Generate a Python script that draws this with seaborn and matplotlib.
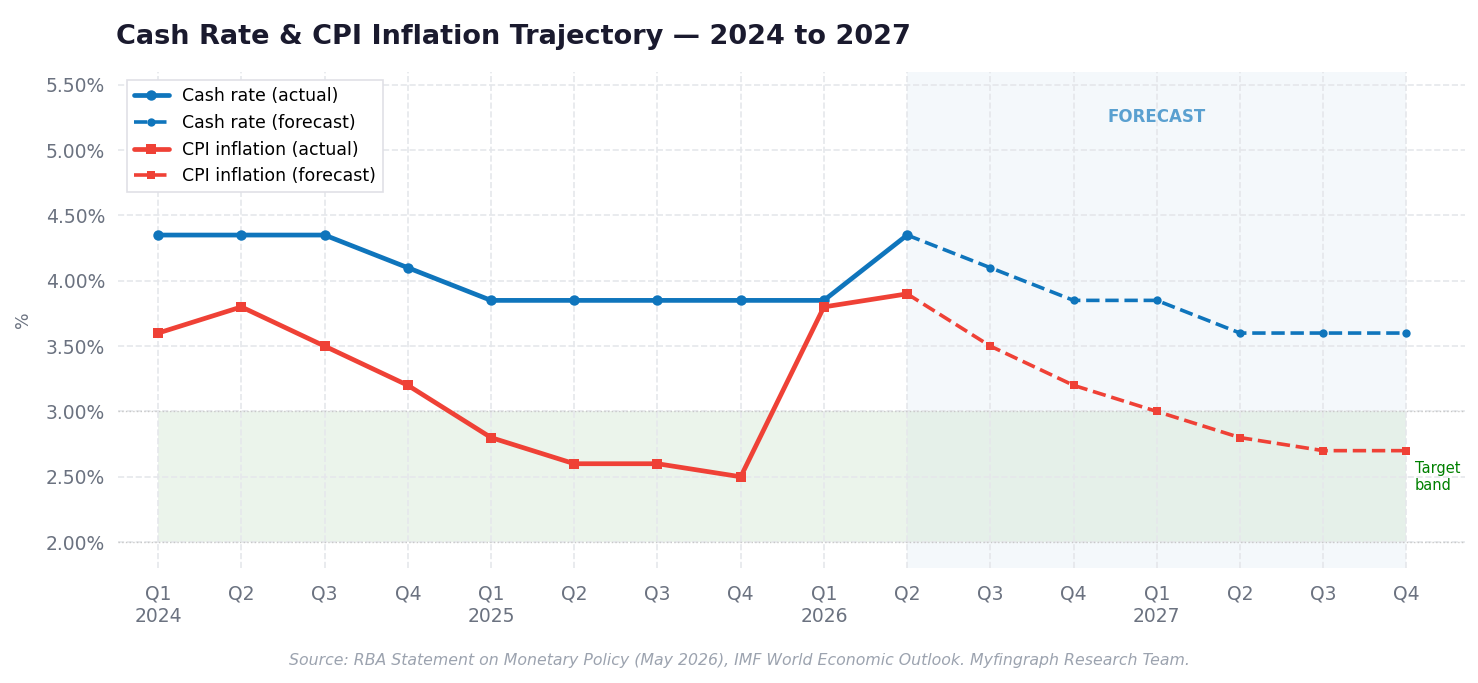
import matplotlib
matplotlib.use("Agg")
import matplotlib.pyplot as plt
import matplotlib.ticker as mticker
import seaborn as sns
import pandas as pd
import numpy as np

quarters = ["Q1\n2024", "Q2", "Q3", "Q4", "Q1\n2025", "Q2", "Q3", "Q4",
            "Q1\n2026", "Q2", "Q3", "Q4", "Q1\n2027", "Q2", "Q3", "Q4"]
cash_actual = [4.35, 4.35, 4.35, 4.10, 3.85, 3.85, 3.85, 3.85, 3.85, 4.35]
cash_forecast = [4.35, 4.10, 3.85, 3.85, 3.60, 3.60, 3.60]
cpi_actual = [3.6, 3.8, 3.5, 3.2, 2.8, 2.6, 2.6, 2.5, 3.8, 3.9]
cpi_forecast = [3.9, 3.5, 3.2, 3.0, 2.8, 2.7, 2.7]
target_low, target_high = 2.0, 3.0
forecast_start = 9

sns.set_style("whitegrid")
plt.rcParams['font.family'] = ['DejaVu Sans']

BLUE = "#0f75bc"
RED = "#ef4136"
GRAY = "#6b7280"

n_act = len(cash_actual)
x_act = np.arange(n_act)
x_fc = np.arange(forecast_start, forecast_start + len(cash_forecast))

df = pd.concat([
    pd.DataFrame({"x": x_act, "y": cash_actual, "s": "Cash rate (actual)"}),
    pd.DataFrame({"x": x_fc, "y": cash_forecast, "s": "Cash rate (forecast)"}),
    pd.DataFrame({"x": x_act, "y": cpi_actual, "s": "CPI inflation (actual)"}),
    pd.DataFrame({"x": x_fc, "y": cpi_forecast, "s": "CPI inflation (forecast)"}),
])

fig, ax = plt.subplots(figsize=(14.78, 6.83), dpi=100)
fig.subplots_adjust(left=0.08, right=0.991, top=0.895, bottom=0.168)

# shaded regions
ax.axvspan(forecast_start, len(quarters) - 1, color="#dbe8f5", alpha=0.3, lw=0, zorder=0)
ax.fill_between([0, len(quarters) - 1], target_low, target_high, color="#cfe5cf", alpha=0.4, lw=0, zorder=0)
ax.axhline(target_low, color="#c8c8c8", ls=":", lw=1, zorder=1)
ax.axhline(target_high, color="#c8c8c8", ls=":", lw=1, zorder=1)

styles = {
    "Cash rate (actual)": dict(color=BLUE, lw=3.4, ls="-", marker="o", ms=7.5),
    "Cash rate (forecast)": dict(color=BLUE, lw=2.6, ls="--", marker="o", ms=6),
    "CPI inflation (actual)": dict(color=RED, lw=3.4, ls="-", marker="s", ms=7.5),
    "CPI inflation (forecast)": dict(color=RED, lw=2.6, ls="--", marker="s", ms=6),
}
for name, st in styles.items():
    sub = df[df["s"] == name]
    sns.lineplot(data=sub, x="x", y="y", ax=ax, label=name, color=st["color"],
                 linewidth=st["lw"], linestyle=st["ls"], marker=st["marker"],
                 markersize=st["ms"], markeredgewidth=0, zorder=3)

ax.set_xlim(-0.48, 15.7)
ax.set_ylim(1.8, 5.6)
ax.set_xticks(range(len(quarters)))
ax.set_xticklabels(quarters)
ax.set_yticks(np.arange(2.0, 5.51, 0.5))
ax.yaxis.set_major_formatter(mticker.FuncFormatter(lambda v, p: f"{v:.2f}%"))
ax.tick_params(axis="both", colors=GRAY, labelsize=13.5, length=6, width=1.5, direction="out")
ax.tick_params(axis="x", pad=6)
ax.grid(True, color="#e5e7eb", ls="--", lw=1.2)
for sp in ax.spines.values():
    sp.set_visible(False)
ax.set_xlabel("")
ax.set_ylabel("%", color=GRAY, fontsize=12.5, labelpad=10)

ax.text(12, 5.25, "FORECAST", color="#5aa0d0", fontsize=12, fontweight="bold",
        ha="center", va="center")
ax.text(15.1, 2.5, "Target\nband", color="green", fontsize=10.5, ha="left", va="center")

leg = ax.legend(loc="upper left", fontsize=12.5, frameon=True, fancybox=False,
                edgecolor="#e0e0e6", framealpha=1, borderaxespad=0.5)
leg.get_frame().set_linewidth(1.2)
for t in leg.get_texts():
    t.set_color("black")

ax.set_title("Cash Rate & CPI Inflation Trajectory — 2024 to 2027", loc="left",
             fontsize=19.5, fontweight="bold", color="#1a1a2e", pad=20, x=-0.002)

fig.text(0.5, 0.033, "Source: RBA Statement on Monetary Policy (May 2026), IMF World Economic Outlook. Myfingraph Research Team.",
         ha="center", va="center", fontsize=11.3, style="italic", color="#9ca3af")

fig.savefig("out.png", dpi=100)
